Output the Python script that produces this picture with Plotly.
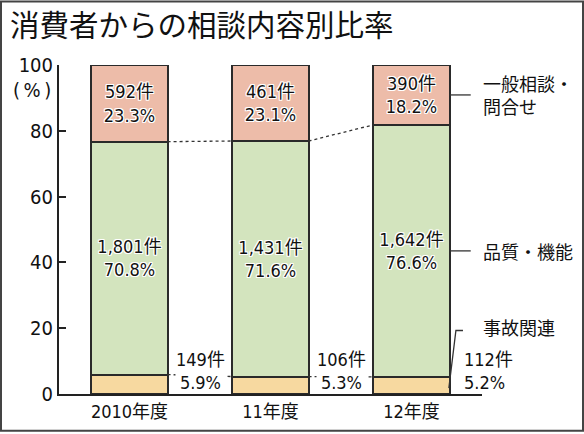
import plotly.graph_objects as go

years = ["2010年度", "11年度", "12年度"]
accident_pct = [5.9, 5.3, 5.2]
quality_pct = [70.8, 71.6, 76.6]
general_pct = [23.3, 23.1, 18.2]
accident_cnt = ["149件", "106件", "112件"]
quality_cnt = ["1,801件", "1,431件", "1,642件"]
general_cnt = ["592件", "461件", "390件"]
series_names = ["事故関連", "品質・機能", "一般相談・<br>問合せ"]
title_text = "消費者からの相談内容別比率"
y_ticks = [0, 20, 40, 60, 80, 100]

FONT = "DejaVu Sans Condensed, Liberation Sans Narrow, Noto Sans CJK JP, sans-serif"
JP = "Noto Sans CJK JP, sans-serif"
HALO = "1px 1px 0 white, -1px -1px 0 white, 1px -1px 0 white, -1px 1px 0 white, 0 1px 0 white, 0 -1px 0 white, 1px 0 0 white, -1px 0 0 white"

x = list(range(len(years)))
W = 0.54
half = W / 2

fig = go.Figure()
colors = ["#F7D9A0", "#D3E4BE", "#EDBCA9"]
vals = [accident_pct, quality_pct, general_pct]
cnts = [accident_cnt, quality_cnt, general_cnt]
for i in range(3):
    text = None
    if i > 0:
        text = [f"{c}<br>{v:.1f}%" for c, v in zip(cnts[i], vals[i])]
    fig.add_trace(go.Bar(
        x=x, y=vals[i], width=W, marker=dict(color=colors[i], line=dict(color="#2a2a2a", width=2)),
        text=text, textposition="inside" if text else "none", insidetextanchor="middle",
        textfont=dict(family=FONT, size=18, color="#111", shadow=HALO),
        showlegend=False, hoverinfo="skip",
    ))

# cumulative levels for connector lines
cum1 = accident_pct
cum2 = [a + q for a, q in zip(accident_pct, quality_pct)]
for lvl in (cum1, cum2):
    for j in range(len(x) - 1):
        fig.add_trace(go.Scatter(
            x=[x[j] + half, x[j + 1] - half], y=[lvl[j], lvl[j + 1]],
            mode="lines", line=dict(color="#333", width=1.3, dash="3px,3px"),
            showlegend=False, hoverinfo="skip",
        ))

# accident labels between bars / right of last bar
for j in range(len(x)):
    txt = f"{accident_cnt[j]}<br>{accident_pct[j]:.1f}%"
    if j < len(x) - 1:
        fig.add_annotation(x=x[j] + 0.5, y=6.9, text=txt, showarrow=False, xanchor="center",
                           yanchor="middle", font=dict(family=FONT, size=18, color="#111"),
                           bgcolor="white", borderpad=0)
    else:
        fig.add_annotation(x=x[j] + half + 0.095, y=6.9, text=txt, showarrow=False, xanchor="left",
                           align="left", yanchor="middle", font=dict(family=FONT, size=18, color="#111"),
                           bgcolor="white", borderpad=0)

# series labels on the right with leader lines
last = x[-1]
gen_mid = cum2[-1] + general_pct[-1] / 2
qual_mid = accident_pct[-1] + quality_pct[-1] / 2
for ymid, name in ((gen_mid, series_names[2]), (qual_mid, series_names[1])):
    fig.add_shape(type="line", x0=last + half, x1=last + half + 0.15, y0=ymid, y1=ymid,
                  line=dict(color="#333", width=1.3))
    fig.add_annotation(x=last + half + 0.225, y=ymid, text=name, showarrow=False, xanchor="left",
                       align="left", yanchor="middle", font=dict(family=JP, size=18, color="#111"))
fig.add_shape(type="path",
              path=f"M {last+half-0.005},{1.8} L {last+half+0.045},{19.3} L {last+half+0.095},{19.3}",
              line=dict(color="#333", width=1.3))
fig.add_annotation(x=last + half + 0.22, y=20.5, text=series_names[0], showarrow=False, xanchor="left",
                   yanchor="middle", font=dict(family=JP, size=18, color="#111"))

# (%) label
fig.add_annotation(xref="paper", yref="paper", x=-0.014, y=0.925, text="(\u2009%\u2009)", showarrow=False,
                   xanchor="right", yanchor="middle", font=dict(family=FONT, size=20, color="#111"))

# outer border
fig.add_shape(type="rect", xref="paper", yref="paper",
              x0=(1 - 59) / 423, x1=(583 - 59) / 423, y0=(396 - 433) / 331, y1=(396 - 1) / 331,
              line=dict(color="#444", width=2))

fig.update_layout(
    width=584, height=434, barmode="stack",
    margin=dict(l=59, r=102, t=65, b=38),
    paper_bgcolor="white", plot_bgcolor="white",
    title=dict(text=title_text, x=10 / 584, xanchor="left", y=1 - 26 / 434, yanchor="middle",
               font=dict(family=JP, size=29.5, color="#111")),
    xaxis=dict(range=[-0.5, 2.5], tickvals=x, ticktext=years, showline=True, linecolor="#222",
               linewidth=2, ticks="", showgrid=False, zeroline=False,
               tickfont=dict(family=FONT, size=18, color="#111")),
    yaxis=dict(range=[0, 100], tickvals=y_ticks, showline=True, linecolor="#222", linewidth=2,
               ticks="inside", ticklen=7, tickcolor="#222", tickwidth=1.5, showgrid=False,
               zeroline=False, tickfont=dict(family=FONT, size=20, color="#111")),
)

fig.write_html("out.html", config={"displayModeBar": False},
               post_script="document.body.style.margin='0';document.body.style.overflow='hidden';")
